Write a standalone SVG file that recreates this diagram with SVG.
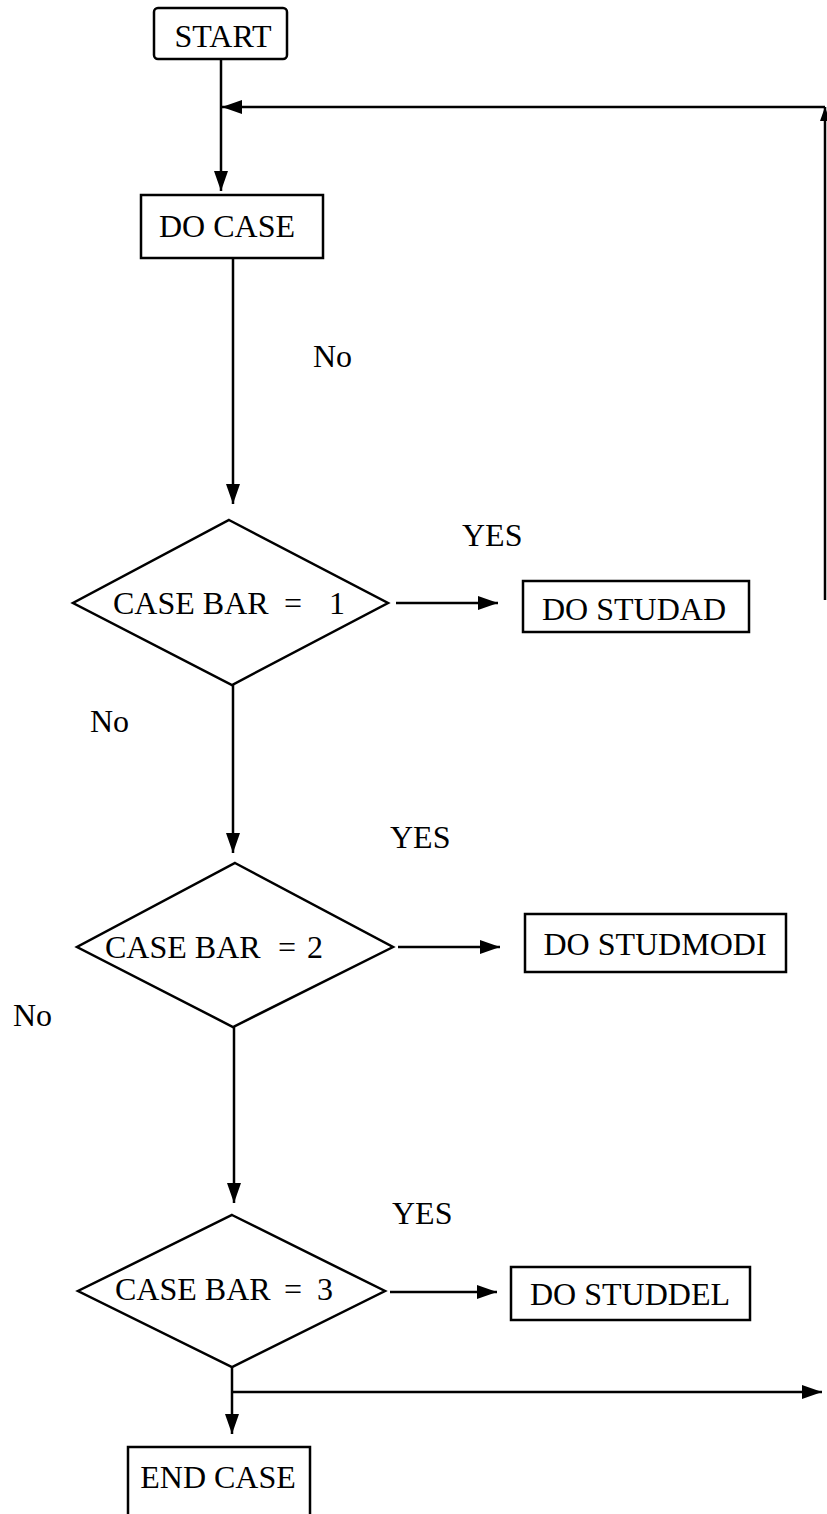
<svg xmlns="http://www.w3.org/2000/svg" width="827" height="1514" viewBox="0 0 827 1514">
<style>
.box{fill:#fff;stroke:#000;stroke-width:2.5}
.dia{fill:#fff;stroke:#000;stroke-width:2.5;stroke-linejoin:miter}
.t{font-family:"Liberation Serif","Times New Roman",serif;font-size:32px;fill:#000}
.c{text-anchor:middle}
.ln{fill:none;stroke:#000;stroke-width:2.5}
</style>
<defs>
<marker id="ah" viewBox="0 0 20 14" markerWidth="20" markerHeight="14" refX="20" refY="7" orient="auto" markerUnits="userSpaceOnUse">
<path d="M0,0 L20,7 L0,14 Z" fill="#000"/>
</marker>
<marker id="ahs" viewBox="0 0 14 10" markerWidth="14" markerHeight="10" refX="14" refY="5" orient="auto" markerUnits="userSpaceOnUse">
<path d="M0,0 L14,5 L0,10 Z" fill="#000"/>
</marker>
</defs>
<rect width="827" height="1514" fill="#fff"/>

<g id="connectors">
<path class="ln" d="M221,59 V191" marker-end="url(#ah)"/>
<path class="ln" d="M825,600 V107" marker-end="url(#ahs)"/>
<path class="ln" d="M825,107 H222" marker-end="url(#ah)"/>
<path class="ln" d="M233,258 V504" marker-end="url(#ah)"/>
<path class="ln" d="M233,685 V853" marker-end="url(#ah)"/>
<path class="ln" d="M234,1027 V1203" marker-end="url(#ah)"/>
<path class="ln" d="M232,1367 V1434" marker-end="url(#ah)"/>
<path class="ln" d="M232,1392 H822" marker-end="url(#ah)"/>
<path class="ln" d="M396,603 H498" marker-end="url(#ah)"/>
<path class="ln" d="M398,947 H500" marker-end="url(#ah)"/>
<path class="ln" d="M390,1292 H497" marker-end="url(#ah)"/>
</g>

<g id="labels">
<text class="t" x="313" y="367">No</text>
<text class="t" x="462" y="546">YES</text>
<text class="t" x="90" y="732">No</text>
<text class="t" x="390" y="848">YES</text>
<text class="t" x="13" y="1026">No</text>
<text class="t" x="392" y="1224">YES</text>
</g>

<g id="start">
<rect class="box" x="154" y="8" width="133" height="51" rx="4"/>
<text class="t c" x="223" y="47">START</text>
</g>

<g id="docase">
<rect class="box" x="141" y="195" width="182" height="63"/>
<text class="t c" x="227" y="237">DO CASE</text>
</g>

<g id="case1">
<polygon class="dia" points="229,520 388,603 232,685 73,603"/>
<text class="t" x="113" y="614">CASE BAR</text>
<text class="t c" x="293" y="614">=</text>
<text class="t c" x="337" y="614">1</text>
</g>

<g id="studad">
<rect class="box" x="523" y="581" width="226" height="51"/>
<text class="t c" x="634" y="620">DO STUDAD</text>
</g>

<g id="case2">
<polygon class="dia" points="235,863 393,947 233,1027 77,947"/>
<text class="t" x="105" y="958">CASE BAR</text>
<text class="t c" x="287" y="958">=</text>
<text class="t c" x="315" y="958">2</text>
</g>

<g id="studmodi">
<rect class="box" x="525" y="914" width="261" height="58"/>
<text class="t c" x="655" y="955">DO STUDMODI</text>
</g>

<g id="case3">
<polygon class="dia" points="232,1215 385,1291 232,1367 78,1291"/>
<text class="t" x="115" y="1300">CASE BAR</text>
<text class="t c" x="293" y="1300">=</text>
<text class="t c" x="325" y="1300">3</text>
</g>

<g id="studdel">
<rect class="box" x="511" y="1267" width="239" height="53"/>
<text class="t c" x="630" y="1305">DO STUDDEL</text>
</g>

<g id="endcase">
<rect class="box" x="128" y="1447" width="182" height="80"/>
<text class="t c" x="218" y="1488">END CASE</text>
</g>
</svg>
